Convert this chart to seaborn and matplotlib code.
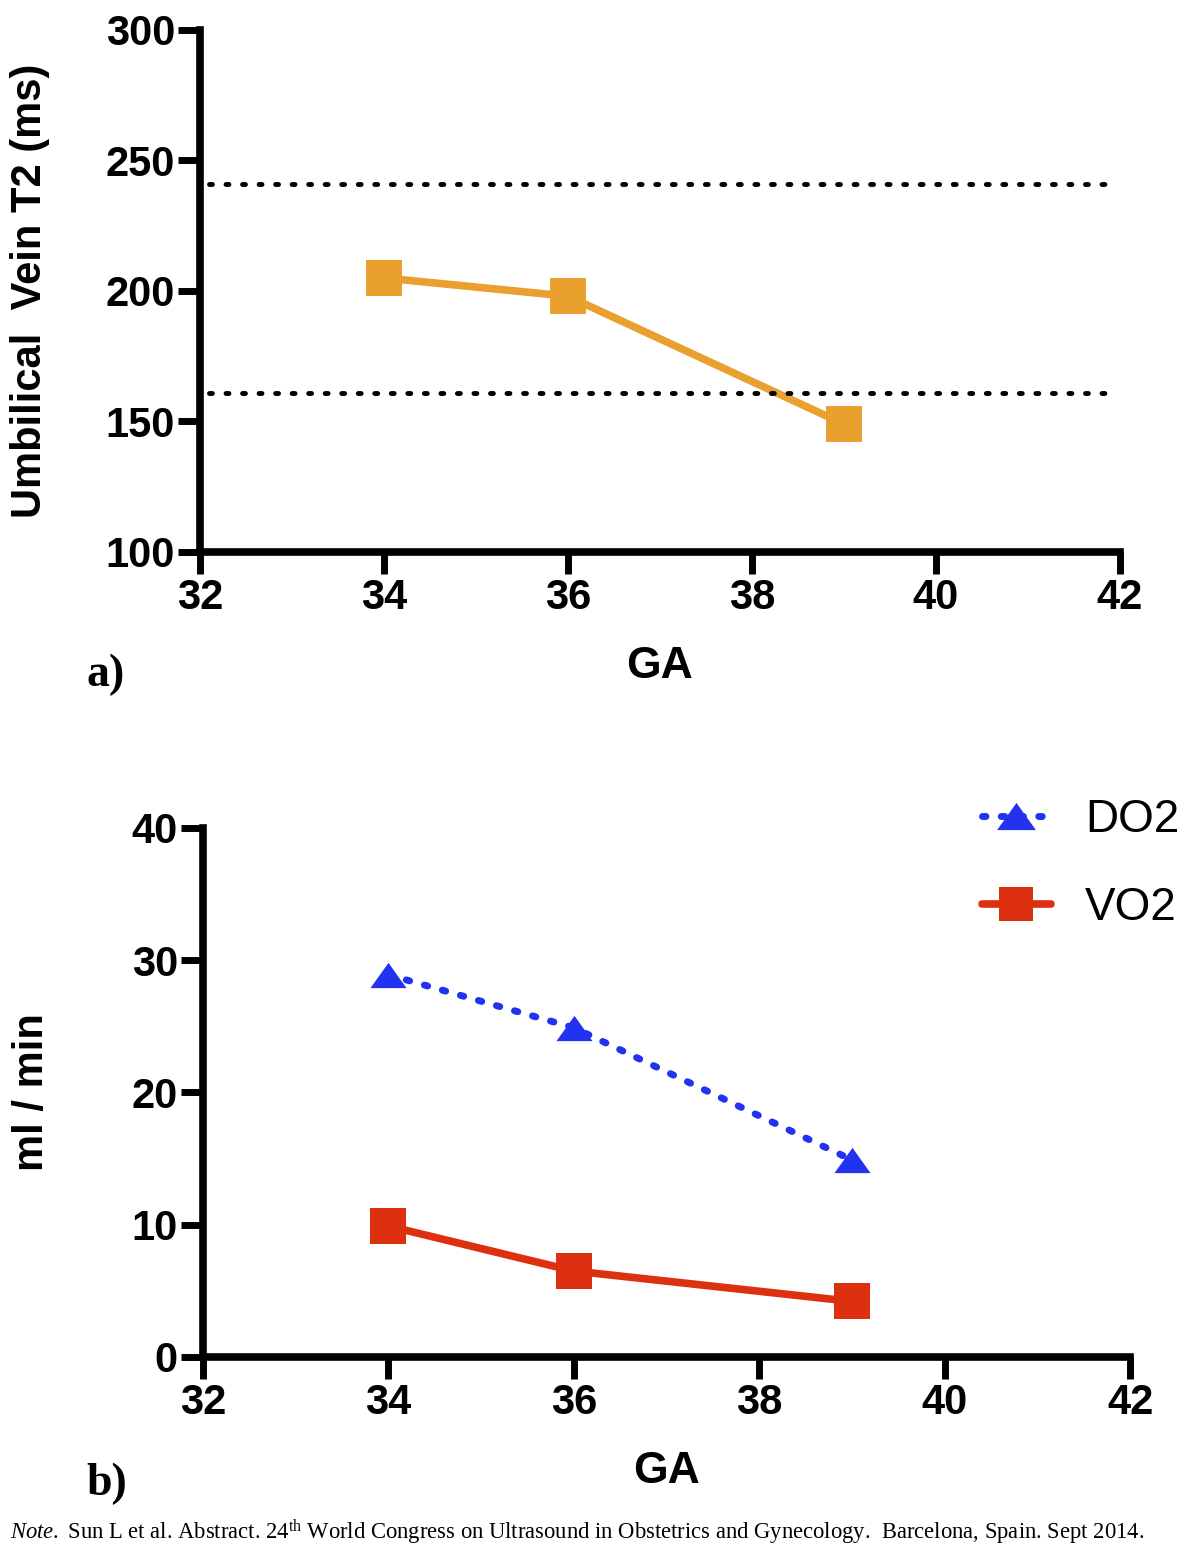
import matplotlib
matplotlib.use("Agg")
import matplotlib.pyplot as plt
import seaborn as sns
from matplotlib.lines import Line2D

# data
ga = [34, 36, 39]
t2_uv = [205, 198, 149]
t2_ref_hi = 241
t2_ref_lo = 161
do2 = [28.9, 24.9, 14.9]
vo2 = [9.9, 6.5, 4.2]
x_ticks = [32, 34, 36, 38, 40, 42]

orange = "#E9A02F"
blue = "#2233F0"
red = "#DD3010"
tri = [(-1, -0.7), (1, -0.7), (0, 0.7)]  # flat triangle marker

sns.set_theme(style="white")
plt.rcParams["font.family"] = ["Liberation Sans", "DejaVu Sans"]
plt.rcParams["text.color"] = "black"
plt.rcParams["axes.labelcolor"] = "black"
plt.rcParams["xtick.color"] = "black"
plt.rcParams["ytick.color"] = "black"
plt.rcParams["mathtext.fontset"] = "custom"
plt.rcParams["mathtext.rm"] = "Liberation Serif"
plt.rcParams["mathtext.it"] = "Liberation Serif:italic"

fig = plt.figure(figsize=(12, 15.54), dpi=100)
ax1 = fig.add_axes([0.1667, 0.6448, 0.7666, 0.3359])
ax2 = fig.add_axes([0.169, 0.1268, 0.7727, 0.3404])

label_font = dict(fontsize=30, fontweight="bold")


def style_axes(ax):
    for s in ["top", "right"]:
        ax.spines[s].set_visible(False)
    for s in ["left", "bottom"]:
        ax.spines[s].set_linewidth(5.5)
        ax.spines[s].set_color("black")
    ax.tick_params(axis="both", direction="out", length=16, width=5,
                   labelsize=30, color="black", left=True, bottom=True)
    ax.tick_params(axis="y", pad=2)
    ax.tick_params(axis="x", pad=3)
    for lab in ax.get_xticklabels() + ax.get_yticklabels():
        lab.set_fontweight("bold")
    ax.grid(False)


# panel a
sns.lineplot(x=ga, y=t2_uv, ax=ax1, color=orange, lw=5.5, marker="s",
             markersize=26, markeredgewidth=0, legend=False)
for ref in [t2_ref_hi, t2_ref_lo]:
    ax1.axhline(ref, xmin=0.01, xmax=0.995, color="black", lw=3.5,
                ls=(0, (0.6, 2.8)), dash_capstyle="round")
ax1.set_xlim(32, 42)
ax1.set_ylim(100, 300)
ax1.set_xticks(x_ticks)
ax1.set_yticks([100, 150, 200, 250, 300])
style_axes(ax1)
ax1.set_xlabel("GA", fontsize=32, fontweight="bold", labelpad=20)
ax1.set_ylabel("Umbilical  Vein T2 (ms)", **label_font)
ax1.yaxis.set_label_coords(-0.163, 0.5)

# panel b
sns.lineplot(x=ga, y=do2, ax=ax2, color=blue, lw=5, marker=tri,
             markersize=26, markeredgewidth=0, legend=False,
             linestyle=(0, (0.5, 2.2)), dash_capstyle="round")
sns.lineplot(x=ga, y=vo2, ax=ax2, color=red, lw=5.5, marker="s",
             markersize=26, markeredgewidth=0, legend=False)
ax2.set_xlim(32, 42)
ax2.set_ylim(0, 40)
ax2.set_xticks(x_ticks)
ax2.set_yticks([0, 10, 20, 30, 40])
style_axes(ax2)
ax2.set_xlabel("GA", fontsize=32, fontweight="bold", labelpad=20)
ax2.set_ylabel("ml / min", **label_font)
ax2.yaxis.set_label_coords(-0.163, 0.5)

handles = [
    Line2D([], [], color=blue, lw=5, marker=tri, markersize=28, markeredgewidth=0,
           linestyle=(0, (0.5, 2.2)), dash_capstyle="round"),
    Line2D([], [], color=red, lw=5.5, marker="s", markersize=25, markeredgewidth=0,
           solid_capstyle="round"),
]
fig.legend(handles, ["DO2", "VO2"], loc="upper right", bbox_to_anchor=(0.998, 0.498),
           borderaxespad=0, frameon=False, fontsize=33, handlelength=1.5,
           handletextpad=0.75, labelspacing=0.96)

fig.text(0.072, 0.5586, "a)", fontsize=33, fontweight="bold", family="Liberation Serif")
fig.text(0.072, 0.038, "b)", fontsize=33, fontweight="bold", family="Liberation Serif")
fig.text(0.008, 0.0097,
         r"$\it{Note.}$ Sun L et al. Abstract. 24$^{\mathrm{th}}$ World Congress on Ultrasound "
         "in Obstetrics and Gynecology.  Barcelona, Spain. Sept 2014.",
         fontsize=16.3, family="Liberation Serif")

fig.savefig("out.png", dpi=100, facecolor="white")
